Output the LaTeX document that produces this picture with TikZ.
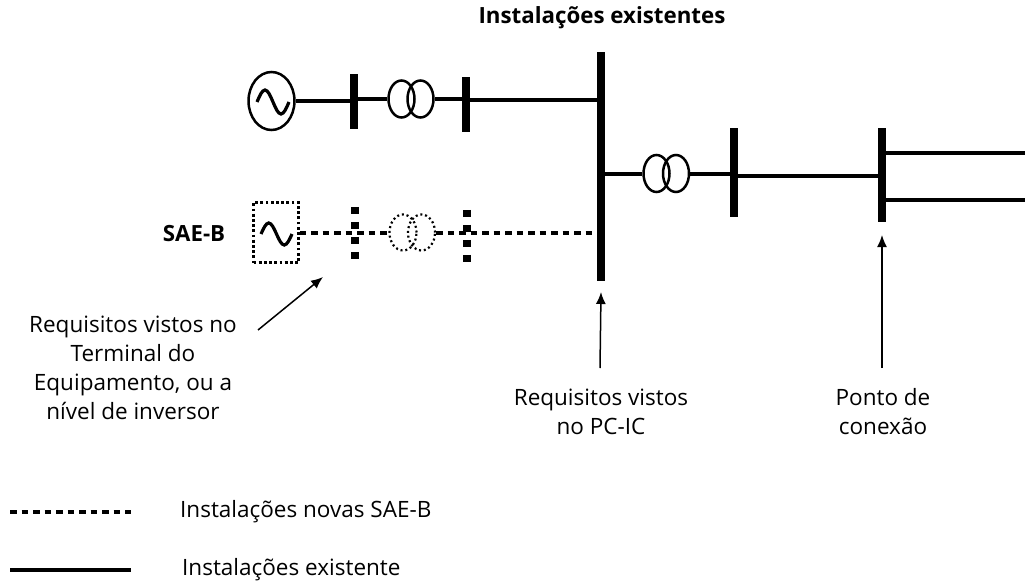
\documentclass[tikz,border=0pt]{standalone}
\usepackage{fontspec}
\setmainfont{Open Sans}
\usetikzlibrary{shapes.geometric,arrows.meta}
\begin{document}
\begin{tikzpicture}[x=1pt,y=-1pt,
 wire/.style={line width=4pt},
 newwire/.style={line width=4.5pt, dash pattern=on 6.5pt off 5pt},
 busbar/.style={fill=black, inner sep=0pt, minimum width=8pt},
 ghost/.style={inner sep=0pt, minimum width=8pt},
 newbus/.style={line width=8pt, dash pattern=on 7pt off 8pt},
 gencirc/.style={ellipse, draw, line width=2.5pt, minimum width=46pt, minimum height=58pt, inner sep=0pt},
 genbox/.style={draw, line width=2.4pt, dash pattern=on 2.8pt off 2.4pt, minimum width=45pt, minimum height=60pt, inner sep=0pt},
 trafo/.style={ellipse, draw, line width=2.5pt, minimum width=26pt, minimum height=37pt, inner sep=0pt},
 newtrafo/.style={ellipse, draw, line width=2.2pt, dash pattern=on 2pt off 2.8pt, minimum width=27pt, minimum height=36pt, inner sep=0pt},
 sine/.style={line width=3.2pt},
 lbl/.style={font=\fontsize{22.5}{29}\selectfont, align=center, inner sep=0pt},
 bold/.style={font=\fontsize{22.3}{26}\selectfont\bfseries, inner sep=0pt},
 arr/.style={-{Latex[length=12pt,width=10pt]}, line width=1.5pt}]
\useasboundingbox (0,0) rectangle (1025,586);

% title
\node[bold] (title) at (602,18) {Instalações existentes};

% existing top row
\node[gencirc] (g1) at (271.5,101) {};
\draw[sine] (257,102) sin (265,90) cos (273,102) sin (281,114) cos (289,102);
\node[busbar, minimum height=55pt] (b1) at (354,101.5) {};
\node[trafo] (t1a) at (401.5,99) {};
\node[trafo] (t1b) at (420.5,99) {};
\node[busbar, minimum height=55pt] (b2) at (466,104.5) {};
\node[busbar, minimum height=229pt] (pc) at (601,166.5) {};

\draw[wire] (g1.east) -- (g1.east -| b1.center);
\draw[wire] (b1.center |- t1a.west) -- (t1a.west);
\draw[wire] (t1b.east) -- (t1b.east -| b2.center);
\draw[wire] (b2.center |- 0,100) -- (pc.center |- 0,100);

% branch to connection point
\node[trafo] (t2a) at (656.5,173.5) {};
\node[trafo] (t2b) at (676,173.5) {};
\node[busbar, minimum height=89pt] (b3) at (734,172.5) {};
\node[busbar, minimum height=94pt] (poc) at (882,175) {};
\coordinate (e1) at (1025,153);
\coordinate (e2) at (1025,200);
\draw[wire] (pc.center |- t2a.west) -- (t2a.west);
\draw[wire] (t2b.east) -- (t2b.east -| b3.center);
\draw[wire] (b3.center |- 0,175.5) -- (poc.center |- 0,175.5);
\draw[wire] (poc.center |- e1) -- (e1);
\draw[wire] (poc.center |- e2) -- (e2);

% new SAE-B row
\node[bold] (sae) at (194,234) {SAE-B};
\node[genbox] (g2) at (276,232.5) {};
\draw[sine] (261,234) sin (268.75,223) cos (276.5,234) sin (284.25,245) cos (292,234);
\node[ghost, minimum height=53pt] (nb1) at (355,233.5) {};
\draw[newbus] (nb1.north) -- (nb1.south);
\node[newtrafo] (t3a) at (403,232.5) {};
\node[newtrafo] (t3b) at (421.5,232.5) {};
\node[ghost, minimum height=53pt] (nb2) at (467,236.5) {};
\draw[newbus] (nb2.north) -- (nb2.south);
\draw[newwire] (g2.east |- 0,233) -- (t3a.west |- 0,233);
\draw[newwire] (t3b.east |- 0,233) -- (pc.west |- 0,233);

% arrows and labels
\coordinate (a1) at (258,330);
\coordinate (a1t) at (323,277);
\draw[arr] (a1) -- (a1t);
\coordinate (a2) at (600,368);
\draw[arr] (a2) -- (pc.south |- 0,292);
\coordinate (a3) at (882,368);
\draw[arr] (a3) -- (poc.south |- 0,235);

\node[lbl] (l1) at (133,368) {Requisitos vistos no\\Terminal do\\Equipamento, ou a\\nível de inversor};
\node[lbl] (l2) at (601,411.5) {Requisitos vistos\\no PC-IC};
\node[lbl] (l3) at (883,411.5) {Ponto de\\conexão};

% legend
\coordinate (ln1a) at (10,512);
\coordinate (ln1b) at (131,512);
\draw[newwire] (ln1a) -- (ln1b);
\node[lbl, anchor=west] (lt1) at (180,512) {Instalações novas SAE-B};
\coordinate (ln2a) at (10,570);
\coordinate (ln2b) at (131,570);
\draw[wire] (ln2a) -- (ln2b);
\node[lbl, anchor=west] (lt2) at (182,570) {Instalações existente};
\end{tikzpicture}
\end{document}
